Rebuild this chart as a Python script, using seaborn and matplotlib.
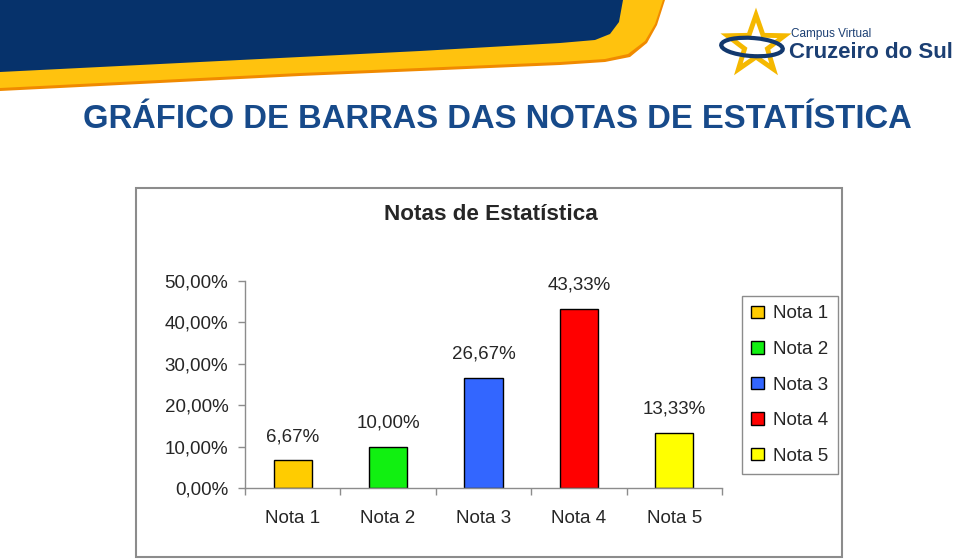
import math
import matplotlib
matplotlib.use('Agg')
import matplotlib.pyplot as plt
import seaborn as sns
import pandas as pd
from matplotlib.patches import Polygon, Rectangle, Patch, Ellipse

# chart data
categorias = ['Nota 1', 'Nota 2', 'Nota 3', 'Nota 4', 'Nota 5']
percentuais = [6.67, 10.00, 26.67, 43.33, 13.33]
cores = ['#FFCC00', '#11F011', '#3366FF', '#FF0000', '#FFFF00']
yticks = [0, 10, 20, 30, 40, 50]

W, H = 960, 559


def px(x, y):
    # pixel position (from top-left) -> figure fraction
    return (x / W, 1 - y / H)


def fmt(v):
    return f'{v:.2f}%'.replace('.', ',')


sns.set_theme(style='white')
plt.rcParams['font.family'] = ['Liberation Sans', 'DejaVu Sans']

fig = plt.figure(figsize=(9.6, 5.59), dpi=100)

# banner at the top
orange = [(0, 91), (300, 76), (420, 71), (560, 65), (605, 62), (630, 57),
          (647, 43), (657, 25), (665, 0), (0, 0)]
yellow = [(0, 88), (300, 73), (420, 68), (560, 62), (605, 59), (628, 54),
          (645, 41), (655, 24), (663, 0), (0, 0)]
blue = [(0, 72), (120, 66), (300, 57), (420, 51), (560, 43), (595, 40),
        (610, 34), (619, 22), (623, 0), (0, 0)]
for pts, col in [(orange, '#F08A00'), (yellow, '#FFC20E'), (blue, '#06326B')]:
    fig.patches.append(Polygon([px(*p) for p in pts], closed=True,
                               transform=fig.transFigure, facecolor=col,
                               edgecolor='none', zorder=0))

# logo
star_pts = []
for i in range(10):
    ang = math.pi / 2 + i * math.pi / 5
    r = 30 if i % 2 == 0 else 12
    star_pts.append(px(756 + r * math.cos(ang), 45 - r * math.sin(ang)))
fig.patches.append(Polygon(star_pts, closed=True, transform=fig.transFigure,
                           facecolor='none', edgecolor='#F5B800', linewidth=3.5))
fig.patches.append(Ellipse(px(752, 47), 62 / W, 18 / H, angle=-8,
                           transform=fig.transFigure, facecolor='none',
                           edgecolor='#12386E', linewidth=3))
fig.text(*px(791, 34), 'Campus Virtual', fontsize=8.5, color='#1B3F73',
         ha='left', va='center')
fig.text(*px(789, 53), 'Cruzeiro do Sul', fontsize=16, fontweight='bold',
         color='#1B3F73', ha='left', va='center')

# page title
fig.text(*px(497, 120), 'GRÁFICO DE BARRAS DAS NOTAS DE ESTATÍSTICA',
         fontsize=23.6, fontweight='bold', color='#174A8A',
         ha='center', va='center')

# chart border
fig.patches.append(Rectangle(px(136, 557), (842 - 136) / W, (557 - 188) / H,
                             transform=fig.transFigure, facecolor='none',
                             edgecolor='#8C8C8C', linewidth=1.5))

fig.text(*px(491, 214), 'Notas de Estatística', fontsize=16.2,
         fontweight='bold', ha='center', va='center')

ax = fig.add_axes([245 / W, (559 - 488) / H, (722 - 245) / W, (488 - 281) / H])
df = pd.DataFrame({'Nota': categorias, 'Percentual': percentuais})
sns.barplot(data=df, x='Nota', y='Percentual', hue='Nota', palette=cores,
            saturation=1, dodge=False, width=0.4, edgecolor='black',
            linewidth=1, legend=False, ax=ax)

for cont in ax.containers:
    ax.bar_label(cont, labels=[fmt(b.get_height()) for b in cont],
                 padding=11, fontsize=13.5)

ax.set_xlim(-0.5, len(categorias) - 0.5)
ax.set_ylim(0, 50)
ax.set_yticks(yticks)
ax.set_yticklabels([fmt(t) for t in yticks], fontsize=13.5)
ax.set_xticks(range(len(categorias)))
ax.set_xticklabels(categorias, fontsize=13.5)
ax.set_xticks([i - 0.5 for i in range(len(categorias) + 1)], minor=True)
ax.tick_params(axis='x', which='major', length=0, pad=16)
ax.tick_params(axis='x', which='minor', length=5, width=1, color='#8C8C8C',
               direction='out', bottom=True)
ax.tick_params(axis='y', length=5, width=1, color='#8C8C8C', direction='out',
               left=True, pad=7)
ax.set_xlabel('')
ax.set_ylabel('')
for s in ['top', 'right']:
    ax.spines[s].set_visible(False)
for s in ['left', 'bottom']:
    ax.spines[s].set_color('#8C8C8C')
    ax.spines[s].set_linewidth(1)
ax.set_facecolor('none')

handles = [Patch(facecolor=c, edgecolor='black', linewidth=1) for c in cores]
leg = ax.legend(handles, categorias, loc='upper left',
                bbox_to_anchor=px(742, 296), bbox_transform=fig.transFigure,
                fontsize=13.5, frameon=True, fancybox=False, framealpha=1,
                edgecolor='#8C8C8C', handlelength=0.65, handleheight=0.65,
                handletextpad=0.5, labelspacing=0.99, borderpad=0.5,
                borderaxespad=0)
leg.get_frame().set_linewidth(1)

fig.savefig('out.png', dpi=100)
